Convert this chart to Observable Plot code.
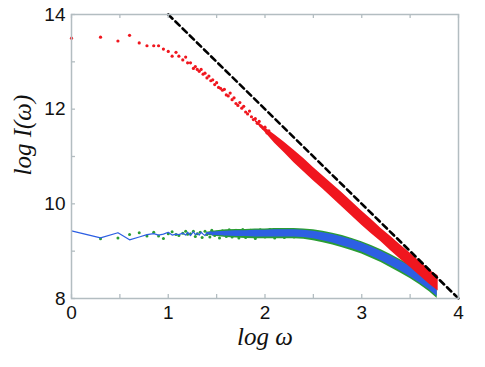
<!DOCTYPE html>
<html><head><meta charset="utf-8">
<script src="https://cdn.jsdelivr.net/npm/d3@7"></script>
<script src="https://cdn.jsdelivr.net/npm/@observablehq/plot@0.6"></script>
<style>body{margin:0;background:#fff}</style>
</head><body><div id="chart"></div>
<script>
// ticks
const xTicks = [0, 1, 2, 3, 4];
const xMinorTicks = [0.5, 1.5, 2.5, 3.5];
const yTicks = [8, 10, 12, 14];
const yMinorTicks = [9, 11, 13];

// reference power law (dashed): endpoints
const refX = [1, 4];
const refY = [14, 8];

// red series: sparse low-frequency points
const redX = [0,0.30,0.48,0.60,0.70,0.78,0.85,0.90,0.95,1.00,1.04,1.08,1.11,1.15,1.18,1.20,1.23,1.26,1.28,1.30,1.32,1.34,1.36,1.38,1.40,1.42,1.44,1.46,1.48,1.50,1.52,1.54,1.56,1.58,1.60,1.62,1.64,1.66,1.68,1.70,1.72,1.74,1.76,1.78,1.80,1.82,1.84,1.86,1.88,1.90,1.92,1.94,1.96,1.98,2.00,2.02,2.04];
const redY = [13.50,13.52,13.44,13.56,13.40,13.34,13.34,13.34,13.27,13.22,13.12,13.20,13.12,13.04,13.10,12.98,12.98,12.86,12.90,12.84,12.80,12.84,12.74,12.76,12.66,12.70,12.60,12.62,12.52,12.56,12.46,12.44,12.40,12.42,12.30,12.28,12.34,12.20,12.24,12.12,12.08,12.14,12.02,12.06,11.94,11.90,11.96,11.84,11.78,11.80,11.70,11.74,11.64,11.60,11.62,11.50,11.54];
// red series: dense band (lower / upper edge)
const redBandX = [1.9,2.0,2.1,2.2,2.3,2.4,2.5,2.6,2.7,2.8,2.9,3.0,3.1,3.2,3.3,3.4,3.5,3.6,3.7,3.79];
const redLo = [11.73,11.51,11.28,11.08,10.87,10.68,10.49,10.31,10.12,9.93,9.74,9.55,9.37,9.20,9.01,8.83,8.66,8.48,8.30,8.16];
const redHi = [11.77,11.61,11.46,11.30,11.13,10.96,10.77,10.59,10.41,10.23,10.04,9.85,9.67,9.48,9.31,9.13,8.96,8.78,8.60,8.48];

// blue series: sparse line
const blueX = [0,0.30,0.48,0.60,0.70,0.78,0.85,0.90,0.95,1.00,1.04,1.08,1.11,1.15,1.18,1.20,1.23,1.26,1.28,1.30,1.32,1.34,1.36,1.38,1.40,1.42,1.44,1.46,1.48,1.50,1.52,1.54,1.56,1.58,1.60];
const blueY = [9.43,9.28,9.39,9.24,9.30,9.35,9.37,9.34,9.36,9.40,9.34,9.36,9.35,9.38,9.34,9.40,9.33,9.41,9.35,9.38,9.34,9.40,9.36,9.33,9.39,9.36,9.41,9.34,9.38,9.35,9.40,9.36,9.41,9.34,9.38];

// green series: sparse points
const greenX = [0.30,0.48,0.60,0.70,0.78,0.85,0.90,0.95,1.00,1.04,1.08,1.11,1.15,1.18,1.20,1.23,1.26,1.28,1.30,1.33,1.35,1.38,1.40,1.43,1.45,1.48,1.50,1.53,1.56,1.60,1.63,1.66,1.70,1.73,1.77,1.80,1.85,1.90,1.95,2.00,2.05,2.10,2.15,2.20,2.25,2.30];
const greenY = [9.26,9.28,9.35,9.39,9.32,9.40,9.32,9.27,9.37,9.41,9.35,9.33,9.38,9.42,9.36,9.37,9.42,9.31,9.37,9.40,9.29,9.42,9.35,9.30,9.44,9.33,9.40,9.28,9.43,9.31,9.45,9.30,9.44,9.28,9.46,9.29,9.44,9.27,9.45,9.30,9.46,9.28,9.45,9.29,9.46,9.30];

// blue / green dense bands
const bandX = [1.4,1.5,1.6,1.7,1.8,1.9,2.0,2.1,2.2,2.3,2.4,2.5,2.6,2.7,2.8,2.9,3.0,3.1,3.2,3.3,3.4,3.5,3.6,3.7,3.78];
const blueLo = [9.35,9.33,9.32,9.31,9.31,9.30,9.30,9.30,9.30,9.30,9.29,9.26,9.22,9.17,9.11,9.05,8.98,8.89,8.80,8.69,8.58,8.46,8.33,8.18,8.04];
const blueHi = [9.39,9.41,9.42,9.43,9.43,9.44,9.44,9.45,9.45,9.45,9.44,9.42,9.39,9.35,9.30,9.24,9.17,9.09,9.00,8.90,8.79,8.68,8.55,8.42,8.28];
const greenLo = [9.34,9.31,9.29,9.28,9.27,9.26,9.26,9.26,9.26,9.26,9.25,9.22,9.18,9.13,9.07,9.01,8.94,8.85,8.76,8.65,8.54,8.42,8.29,8.14,8.00];
const greenHi = [9.40,9.43,9.45,9.46,9.46,9.47,9.47,9.48,9.48,9.48,9.47,9.45,9.42,9.38,9.33,9.27,9.20,9.12,9.03,8.93,8.82,8.71,8.58,8.45,8.31];

const RED = "#f0161e", BLUE = "#2d5fe3", GREEN = "#2a9d34", FRAME = "#b3bdc1";
const W = 485, H = 367, mL = 71, mR = 27, mT = 14, mB = 69;
const pw = W - mL - mR, ph = H - mT - mB, tl = 4;
const idx = a => d3.range(a.length);

const chart = Plot.plot({
  width: W, height: H,
  marginLeft: mL, marginRight: mR, marginTop: mT, marginBottom: mB,
  x: {domain: [0, 4]},
  y: {domain: [8, 14]},
  style: {fontFamily: "'Liberation Sans', Arial, sans-serif", background: "#fff", color: "#111"},
  marks: [
    Plot.areaY(idx(bandX), {x: i => bandX[i], y1: i => greenLo[i], y2: i => greenHi[i], fill: GREEN}),
    Plot.dot(idx(greenX), {x: i => greenX[i], y: i => greenY[i], r: 1.5, fill: GREEN}),
    Plot.line(idx(blueX), {x: i => blueX[i], y: i => blueY[i], stroke: BLUE, strokeWidth: 1.2}),
    Plot.areaY(idx(bandX), {x: i => bandX[i], y1: i => blueLo[i], y2: i => blueHi[i], fill: BLUE}),
    Plot.dot(idx(redX), {x: i => redX[i], y: i => redY[i], r: 1.6, fill: RED}),
    Plot.areaY(idx(redBandX), {x: i => redBandX[i], y1: i => redLo[i], y2: i => redHi[i], fill: RED}),
    Plot.line(idx(refX), {x: i => refX[i], y: i => refY[i], stroke: "#000", strokeWidth: 2.6, strokeDasharray: "6,4"}),
    Plot.frame({stroke: FRAME, strokeWidth: 1.5}),
    Plot.tickX([...xTicks, ...xMinorTicks], {x: d => d, insetTop: ph - tl, stroke: FRAME, strokeWidth: 1.3}),
    Plot.tickX([...xTicks, ...xMinorTicks], {x: d => d, insetBottom: ph - tl, stroke: FRAME, strokeWidth: 1.3}),
    Plot.tickY([...yTicks, ...yMinorTicks], {y: d => d, insetRight: pw - tl, stroke: FRAME, strokeWidth: 1.3}),
    Plot.axisX(xTicks, {tickSize: 0, tickPadding: 7, fontSize: 19, label: null}),
    Plot.axisY(yTicks, {tickSize: 0, tickPadding: 6, fontSize: 19, label: null}),
    Plot.text(["log ω"], {frameAnchor: "bottom", dy: 46, fontSize: 25, fontStyle: "italic", fontFamily: "'Liberation Serif', 'Times New Roman', serif", fill: "#111"}),
    Plot.text(["log I(ω)"], {frameAnchor: "left", dx: -49, dy: 19, rotate: -90, fontSize: 25, fontStyle: "italic", fontFamily: "'Liberation Serif', 'Times New Roman', serif", fill: "#111"})
  ]
});
document.getElementById("chart").appendChild(chart);
</script>
</body></html>
